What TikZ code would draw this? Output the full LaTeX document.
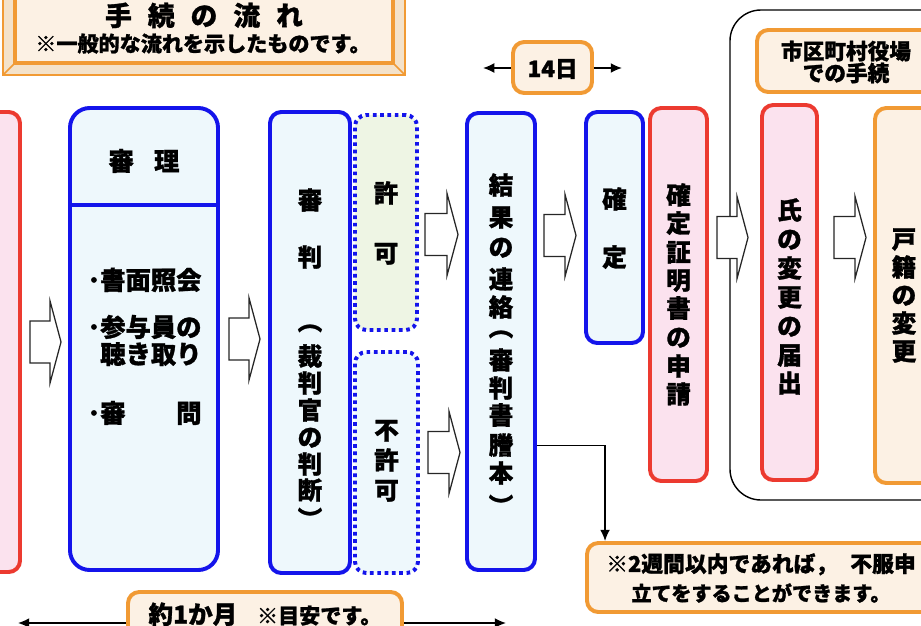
\documentclass[tikz,border=0pt]{standalone}
\usepackage{fontspec}
\setmainfont{Noto Sans CJK JP}[BoldFeatures={FakeBold=1.2}]
\usetikzlibrary{arrows.meta,calc,fit}

\definecolor{hblue}{RGB}{20,20,235}
\definecolor{hbluefill}{RGB}{238,248,252}
\definecolor{hred}{RGB}{236,58,48}
\definecolor{hredfill}{RGB}{251,226,238}
\definecolor{horange}{RGB}{241,154,52}
\definecolor{horangefill}{RGB}{252,241,228}
\definecolor{hgreenfill}{RGB}{238,245,228}
\definecolor{htan}{RGB}{244,226,202}

\tikzset{
  box/.style={line width=2.8pt, rounded corners=8pt, inner sep=0pt},
  bluebox/.style={box, draw=hblue, fill=hbluefill},
  redbox/.style={box, draw=hred, fill=hredfill},
  orangebox/.style={box, draw=horange, fill=horangefill},
  dotbox/.style={box, draw=hblue, dash pattern=on 2.6pt off 2.6pt},
  jch/.style={font=\bfseries\fontsize{17.5}{17.5}\selectfont, inner sep=0pt, text height=15.4pt, text depth=2.1pt},
  paren/.style={jch, rotate=-90},
  jtxt/.style={font=\bfseries\fontsize{18}{18}\selectfont, inner sep=0pt, text height=15.8pt, text depth=2.2pt},
  fatarrow/.style={draw=black!85, line width=0.9pt, fill=white,
    to path={($(\tikztostart)+(0,21)$) -- ($(\tikztotarget)+(-11,21)$) -- ($(\tikztotarget)+(-11,41)$)
      -- (\tikztotarget) -- ($(\tikztotarget)+(-11,-41)$) -- ($(\tikztotarget)+(-11,-21)$)
      -- ($(\tikztostart)+(0,-21)$) -- cycle}},
  thinarrow/.style={line width=1pt, -{Latex[length=8pt,width=7pt]}},
}

\begin{document}
\begin{tikzpicture}[x=0.025cm, y=-0.025cm]
    \useasboundingbox (0,0) rectangle (921,625);
    \clip (0,0) rectangle (921,625);
    %% title frame
    \fill[htan] (3,-10) rectangle (405,75);
    \draw[horange, line width=2pt] (3,-10) -- (3,75) -- (405,75) -- (405,-10);
    \draw[horange, line width=2.4pt, fill=horangefill] (15,-10) -- (15,63) -- (393,63) -- (393,-10);
    \draw[horange, line width=1.2pt] (3,75) -- (15,63) (405,75) -- (393,63);
    \node[jtxt, font=\bfseries\fontsize{19}{19}\selectfont] (title) at (204,16) {手\hspace{0.6em}続\hspace{0.6em}の\hspace{0.6em}流\hspace{0.6em}れ};
    \node[jtxt, font=\bfseries\fontsize{15}{15}\selectfont] (subtitle) at (203,42) {※一般的な流れを示したものです。};
    %% court steps
    \node[redbox, fit={(-40,112) (20,572)}] (moushi) {};
    \node[bluebox, rounded corners=14pt, fit={(70,108) (218,570)}] (shinri) {};
    \draw[hblue, line width=2.8pt] (shinri.west |- 0,205) -- (shinri.east |- 0,205);
    \node[jtxt] (shinri-t) at (144,161) {審\hspace{0.8em}理};
    \node[jtxt, anchor=west] (shinri-1) at (100,280) {\llap{･}書面照会};
    \node[jtxt, anchor=west] (shinri-2) at (100,327) {\llap{･}参与員の};
    \node[jtxt, anchor=west] (shinri-3) at (100,354) {聴き取り};
    \node[jtxt, anchor=west] (shinri-4) at (100,413) {\llap{･}審　　問};
    \node[bluebox, fit={(270,112) (350,573)}] (shinpan) {};
    \foreach \c/\yy [count=\i] in {審/200,判/257,裁/356,判/383,官/410,の/437,判/464,断/490}
        \node[jch] (shinpan-\i) at (shinpan.center |- 0,\yy) {\c};
    \node[paren] (shinpan-po) at (shinpan.center |- 0,321) {（};
    \node[paren] (shinpan-pc) at (shinpan.center |- 0,519) {）};
    \node[dotbox, fill=hgreenfill, fit={(355,115) (417,330)}] (kyoka) {};
    \foreach \c/\yy [count=\i] in {許/193,可/253}
        \node[jch] (kyoka-\i) at (kyoka.center |- 0,\yy) {\c};
    \node[dotbox, fill=hbluefill, fit={(355,352) (418,573)}] (fukyoka) {};
    \foreach \c/\yy [count=\i] in {不/430,許/460,可/490}
        \node[jch] (fukyoka-\i) at (fukyoka.center |- 0,\yy) {\c};
    \node[bluebox, fit={(467,113) (535,570)}] (kekka) {};
    \foreach \c/\yy [count=\i] in {結/185,果/217,の/247,連/279,絡/307,審/360,判/388,書/415,謄/445,本/473}
        \node[jch] (kekka-\i) at (kekka.center |- 0,\yy) {\c};
    \node[paren] (kekka-po) at (kekka.center |- 0,327) {（};
    \node[paren] (kekka-pc) at (kekka.center |- 0,506) {）};
    \node[bluebox, fit={(586,112) (643,343)}] (kakutei) {};
    \foreach \c/\yy [count=\i] in {確/199,定/257}
        \node[jch] (kakutei-\i) at (kakutei.center |- 0,\yy) {\c};
    \node[redbox, fit={(650,108) (707,481)}] (shomei) {};
    \foreach \c/\yy [count=\i] in {確/195,定/223,証/252,明/280,書/308,の/337,申/366,請/394}
        \node[jch] (shomei-\i) at (shomei.center |- 0,\yy) {\c};
    %% municipal office
    \node[draw, line width=1pt, rounded corners=22pt, inner sep=0pt, fit={(730,10) (960,500)}] (office) {};
    \node[orangebox, fit={(757,30) (935,92)}] (yakuba) {};
    \node[jtxt, font=\bfseries\fontsize{15.4}{15.6}\selectfont, align=center, text height=, text depth=] (yakuba-t) at (846,62) {市区町村役場\\での手続};
    \node[redbox, fit={(762,105) (817,480)}] (uji) {};
    \foreach \c/\yy [count=\i] in {氏/210,の/239,変/268,更/297,の/326,届/355,出/383}
        \node[jch] (uji-\i) at (uji.center |- 0,\yy) {\c};
    \node[orangebox, fit={(875,108) (933,483)}] (koseki) {};
    \foreach \c/\yy [count=\i] in {戸/239,籍/267,の/295,変/323,更/351}
        \node[jch] (koseki-\i) at (904,\yy) {\c};
    %% fat arrows
    \draw[fatarrow] ($(moushi.east)+(8,0)$) to ($(shinri.west |- moushi.east)+(-7,0)$);
    \draw[fatarrow] ($(shinri.east)+(9,0)$) to ($(shinpan.west |- shinri.east)+(-8,0)$);
    \draw[fatarrow] ($(kyoka.east)+(6,12)$) to ($(kekka.west |- kyoka.east)+(-7,12)$);
    \draw[fatarrow] ($(fukyoka.east)+(8,-10)$) to ($(kekka.west |- fukyoka.east)+(-5,-10)$);
    \draw[fatarrow] ($(kekka.east |- kakutei.east)+(7,8)$) to ($(kakutei.west)+(-8,8)$);
    \draw[fatarrow] ($(shomei.east |- kakutei.east)+(8,10)$) to ($(uji.west |- kakutei.east)+(-12,10)$);
    \draw[fatarrow] ($(uji.east |- kakutei.east)+(15,10)$) to ($(koseki.west |- kakutei.east)+(-7,10)$);
    %% 14 days
    \node[orangebox, fit={(513,42) (592,93)}] (days) {};
    \node[jtxt, font=\bfseries\fontsize{16}{16}\selectfont] (days-t) at (days.center) {14日};
    \coordinate (days-l) at (483,68);
    \coordinate (days-r) at (622,68);
    \draw[thinarrow] (days.west |- days-l) -- (days-l);
    \draw[thinarrow] (days.east |- days-r) -- (days-r);
    %% objection note
    \node[orangebox, fit={(587,543) (939,612)}] (note) {};
    \node[jtxt, font=\bfseries\fontsize{14.3}{20.6}\selectfont, align=center, text height=, text depth=] (note-t) at (761,578) {{\fontsize{15.5}{20.6}\selectfont ※2週間以内であれば，\hspace{0.6em}不服申}\\立てをすることができます。};
    \draw[thinarrow] ($(kekka.east)+(0,104)$) -| ($(note.north west)+(20,0)$);
    %% one month
    \node[orangebox, fit={(128,592) (402,660)}] (month) {};
    \node[jtxt, font=\bfseries\fontsize{17.5}{17.5}\selectfont] (month-t) at (265,614) {約1か月\hspace{0.8em}{\fontsize{15}{15}\selectfont ※目安です。}};
    \coordinate (month-l) at (18,623);
    \coordinate (month-r) at (506,623);
    \draw[thinarrow] (month.west |- month-l) -- (month-l);
    \draw[thinarrow] (month.east |- month-r) -- (month-r);
\end{tikzpicture}
\end{document}
